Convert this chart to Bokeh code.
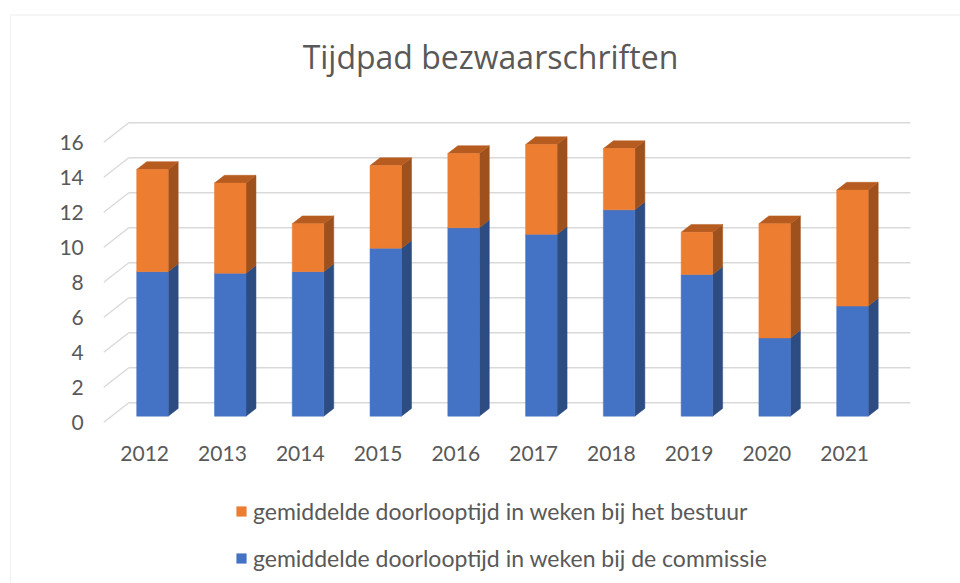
from bokeh.plotting import figure
from bokeh.models import (FixedTicker, Legend, LegendItem, Label, BoxAnnotation,
                          ColumnDataSource)
from bokeh.embed import file_html
from bokeh.resources import INLINE

# ---------------- data ----------------
years = ["2012", "2013", "2014", "2015", "2016", "2017", "2018", "2019", "2020", "2021"]
commissie = [8.26, 8.17, 8.26, 9.60, 10.77, 10.39, 11.79, 8.09, 4.47, 6.29]
bestuur = [5.84, 5.15, 2.74, 4.72, 4.24, 5.13, 3.50, 2.42, 6.53, 6.63]
y_ticks = [0, 2, 4, 6, 8, 10, 12, 14, 16]
title_text = "Tijdpad bezwaarschriften"
label_bestuur = "gemiddelde doorlooptijd in weken bij het bestuur"
label_commissie = "gemiddelde doorlooptijd in weken bij de commissie"

# ---------------- style / geometry ----------------
BLUE, BLUE_SIDE = "#4472C4", "#2D4C82"
ORANGE, ORANGE_SIDE, ORANGE_TOP = "#ED7D31", "#9E511D", "#B75C20"
GRID = "#D9D9D9"
TEXT = "#595959"
FONT = "Lato"
TITLE_FONT = "Open Sans"

WALL_X0, WALL_X1 = -0.526, 9.524        # floor extent (front plane, category units)
WALL_DX, WALL_DY = 0.3214, 1.114        # depth vector front -> back wall (data units)
BAR_OFF_DX, BAR_OFF_DY = 0.0996, 0.343  # bar front face depth offset
BAR_DX, BAR_DY = 0.1286, 0.446          # bar depth
BAR_W = 0.405

n = len(years)
idx = list(range(n))

p = figure(width=960, height=583, x_range=(-1.854, 10.489), y_range=(-9.217, 24.097),
           output_backend="svg", toolbar_location=None,
           min_border_left=0, min_border_right=0, min_border_top=0, min_border_bottom=0)
p.outline_line_color = None
p.xgrid.visible = False
p.ygrid.visible = False
p.background_fill_color = "white"
p.border_fill_color = "white"

# ---------------- chart border ----------------
p.add_layout(BoxAnnotation(left=-1.7254, right=14, top=23.269, bottom=-14,
                           fill_alpha=0, line_color=GRID, line_width=1.5))

# ---------------- walls / gridlines ----------------
p.segment(x0=[WALL_X0 + WALL_DX] * len(y_ticks), y0=[v + WALL_DY for v in y_ticks],
          x1=[WALL_X1 + WALL_DX] * len(y_ticks), y1=[v + WALL_DY for v in y_ticks],
          line_color=GRID, line_width=1.4)
p.segment(x0=[WALL_X0] * len(y_ticks), y0=y_ticks,
          x1=[WALL_X0 + WALL_DX] * len(y_ticks), y1=[v + WALL_DY for v in y_ticks],
          line_color=GRID, line_width=1.4)

# ---------------- bars ----------------
left = [i + BAR_OFF_DX - BAR_W / 2 for i in idx]
right = [i + BAR_OFF_DX + BAR_W / 2 for i in idx]
b0 = [BAR_OFF_DY] * n
b1 = [BAR_OFF_DY + c for c in commissie]
o1 = [BAR_OFF_DY + c + b for c, b in zip(commissie, bestuur)]

def side(y0s, y1s):
    xs = [[r, r + BAR_DX, r + BAR_DX, r] for r in right]
    ys = [[a, a + BAR_DY, b + BAR_DY, b] for a, b in zip(y0s, y1s)]
    return xs, ys

sx, sy = side(b0, b1)
p.patches(xs=sx, ys=sy, fill_color=BLUE_SIDE, line_color=BLUE_SIDE, line_width=0.5)
sx, sy = side(b1, o1)
p.patches(xs=sx, ys=sy, fill_color=ORANGE_SIDE, line_color=ORANGE_SIDE, line_width=0.5)
tx = [[l, r, r + BAR_DX, l + BAR_DX] for l, r in zip(left, right)]
ty = [[t, t, t + BAR_DY, t + BAR_DY] for t in o1]
p.patches(xs=tx, ys=ty, fill_color=ORANGE_TOP, line_color=ORANGE_TOP, line_width=0.5)

src = ColumnDataSource(dict(left=left, right=right, b0=b0, b1=b1, o1=o1))
r_blue = p.quad(left="left", right="right", bottom="b0", top="b1", source=src,
                fill_color=BLUE, line_color=BLUE, line_width=0.5)
r_orange = p.quad(left="left", right="right", bottom="b1", top="o1", source=src,
                  fill_color=ORANGE, line_color=ORANGE, line_width=0.5)

# ---------------- axes (drawn at the front floor / front-left edge) ----------------
xa = p.xaxis[0]
xa.ticker = FixedTicker(ticks=idx)
xa.major_label_overrides = {i: y for i, y in zip(idx, years)}
xa.fixed_location = 0
ya = p.yaxis[0]
ya.ticker = FixedTicker(ticks=y_ticks)
ya.fixed_location = WALL_X0
for ax in (xa, ya):
    ax.axis_line_color = None
    ax.major_tick_line_color = None
    ax.minor_tick_line_color = None
    ax.major_tick_out = 0
    ax.major_tick_in = 0
    ax.major_label_text_font = FONT
    ax.major_label_text_font_size = "21px"
    ax.major_label_text_color = TEXT
xa.major_label_standoff = 24
ya.major_label_standoff = 20

# ---------------- title ----------------
p.add_layout(Label(x=4.446, y=20.9, text=title_text, text_align="center",
                   text_baseline="alphabetic", text_font=TITLE_FONT,
                   text_font_size="32px", text_color=TEXT))

# ---------------- legend ----------------
legend = Legend(items=[LegendItem(label=label_bestuur, renderers=[r_orange]),
                       LegendItem(label=label_commissie, renderers=[r_blue])],
                location=(235, 11), orientation="vertical",
                glyph_width=12, glyph_height=12, label_standoff=6, spacing=19,
                padding=0, margin=0, border_line_color=None, background_fill_alpha=0,
                label_text_font=FONT, label_text_font_size="23px",
                label_text_color=TEXT, label_height=22)
p.add_layout(legend, "center")

open("out.html", "w").write(file_html(p, INLINE))
